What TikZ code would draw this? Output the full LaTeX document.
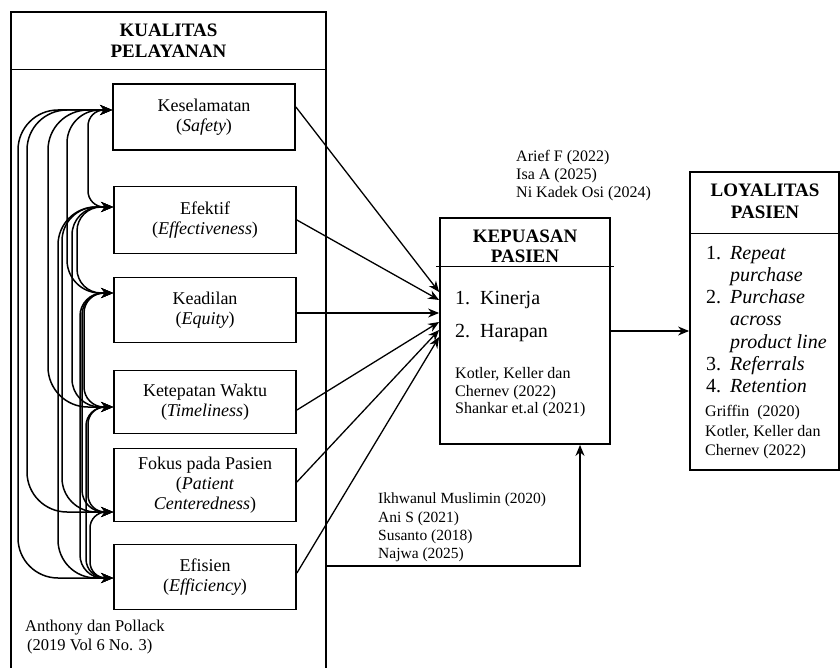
\documentclass[tikz,border=0pt]{standalone}
\usepackage{fontspec}
\setmainfont{Liberation Serif}
\usetikzlibrary{arrows.meta}
\newcommand\fsz[2]{\fontsize{#1}{#2}\selectfont}
\tikzset{
  dimbox/.style={draw, line width=1.8pt, minimum width=182pt, inner sep=0pt, align=center, font=\fsz{18}{20}},
  bigbox/.style={draw, line width=1.8pt, inner sep=0pt},
  title/.style={inner sep=0pt, align=center, font=\bfseries\fsz{19}{21}},
  txt/.style={inner sep=0pt, align=left, anchor=west},
  arr/.style={-{Stealth[length=11pt,width=9pt]}, line width=1.3pt},
  arcarr/.style={{Stealth[length=12pt,width=10pt]}-{Stealth[length=12pt,width=10pt]}, line width=1.5pt},
}
\begin{document}
\begin{tikzpicture}[x=1pt,y=-1pt]

\newcommand\linkarc[6]{%
  \coordinate (lv) at (#5,0);
  \draw[arcarr, rounded corners=#6pt] ([yshift=#2pt]#1.west) -- ([yshift=#2pt]#1.west -| lv)
    -- ([yshift=#4pt]#3.west -| lv) -- ([yshift=#4pt]#3.west);}

\useasboundingbox (0,0) rectangle (840,668);

%% kualitas pelayanan
\node[bigbox, minimum width=315pt, minimum height=666pt] (kq) at (168.5,345) {};
\draw[line width=1pt] ([shift={(0,58)}]kq.north west) -- ([shift={(0,58)}]kq.north east);
\node[title] (kqt) at (168.5,41) {KUALITAS\\PELAYANAN};

\node[dimbox, minimum height=66pt] (k1) at (204,117) {Keselamatan\\(\textit{Safety})};
\node[dimbox, minimum height=67pt] (k2) at (205,220) {Efektif\\(\textit{Effectiveness})};
\node[dimbox, minimum height=65pt] (k3) at (205,310) {Keadilan\\(\textit{Equity})};
\node[dimbox, minimum height=63pt] (k4) at (205,402) {Ketepatan Waktu\\(\textit{Timeliness})};
\node[dimbox, minimum height=73pt] (k5) at (205,485) {Fokus pada Pasien\\(\textit{Patient}\\\textit{Centeredness})};
\node[dimbox, minimum height=65pt] (k6) at (205,577) {Efisien\\(\textit{Efficiency})};

\node[txt, font=\fsz{16.5}{19}] (src1) at (25,637) {Anthony dan Pollack\\\hspace*{2pt}(2019 Vol 6 No. 3)};

%% arcs between the dimensions
\linkarc{k1}{7}{k6}{-1}{18}{40}
\linkarc{k1}{7}{k5}{-27}{27}{40}
\linkarc{k1}{7}{k4}{-5}{48}{40}
\linkarc{k1}{7}{k3}{17}{67}{33}
\linkarc{k1}{7}{k2}{13}{88}{16}
\linkarc{k2}{13}{k6}{-1}{58}{38}
\linkarc{k2}{13}{k5}{-27}{62}{34}
\linkarc{k2}{13}{k4}{-5}{72}{28}
\linkarc{k2}{13}{k3}{17}{77}{24}
\linkarc{k3}{17}{k6}{-1}{80}{23}
\linkarc{k3}{17}{k5}{-27}{82}{22}
\linkarc{k3}{17}{k4}{-5}{84}{20}
\linkarc{k4}{-5}{k6}{-1}{86}{19}
\linkarc{k4}{-5}{k5}{-27}{88}{17}
\linkarc{k5}{-27}{k6}{-1}{90}{16}

%% kepuasan pasien
\node[bigbox, minimum width=170pt, minimum height=226pt] (kp) at (525,331) {};
\draw[line width=1pt] ([shift={(-3,49)}]kp.north west) -- ([shift={(3,49)}]kp.north east);
\node[title, font=\bfseries\fsz{19}{20}] (kpt) at (525,246) {KEPUASAN\\PASIEN};
\node[txt, font=\fsz{20}{33}] (kpi) at (455,316.5) {\makebox[25pt][l]{1.}Kinerja\\\makebox[25pt][l]{2.}Harapan};
\node[txt, font=\fsz{16}{17.5}] (kpr) at (455,392.5) {Kotler, Keller dan\\Chernev (2022)\\Shankar et.al (2021)};

\node[txt, font=\fsz{16}{18}] (src2) at (516,176) {Arief F (2022)\\Isa A (2025)\\Ni Kadek Osi (2024)};
\node[txt, font=\fsz{15.5}{18.3}] (src3) at (378,527.5) {Ikhwanul Muslimin (2020)\\Ani S (2021)\\Susanto (2018)\\Najwa (2025)};

%% loyalitas pasien
\node[bigbox, minimum width=149pt, minimum height=298pt] (ly) at (764.5,321) {};
\draw[line width=1pt] ([shift={(0,62)}]ly.north west) -- ([shift={(0,62)}]ly.north east);
\node[title, font=\bfseries\fsz{19}{22}] (lyt) at (765,201) {LOYALITAS\\PASIEN};
\node[txt, font=\fsz{20}{22.2}] (lyi) at (706,319.5) {\makebox[24pt][l]{1.}\textit{Repeat}\\\hspace*{24pt}\textit{purchase}\\
  \makebox[24pt][l]{2.}\textit{Purchase}\\\hspace*{24pt}\textit{across}\\\hspace*{24pt}\textit{product line}\\
  \makebox[24pt][l]{3.}\textit{Referrals}\\\makebox[24pt][l]{4.}\textit{Retention}};
\node[txt, font=\fsz{16}{19.5}] (lyr) at (705,432.5) {Griffin~~(2020)\\Kotler, Keller dan\\Chernev (2022)};

%% connectors
\draw[arr] ([yshift=10pt]k1.east) -- ([yshift=39pt]kp.west);
\draw[arr] (k2.east) -- ([yshift=31pt]kp.west);
\draw[arr] ([yshift=-3pt]k3.east) -- ([yshift=18pt]kp.west);
\draw[arr] ([yshift=-8pt]k4.east) -- ([yshift=9pt]kp.west);
\draw[arr] ([yshift=3pt]k5.east) -- ([yshift=1pt]kp.west);
\draw[arr] ([yshift=4pt]k6.east) -- ([yshift=-6pt]kp.west);

\draw[arr] (kp.east) -- (kp.east -| ly.west);

\coordinate (bend) at (580,566);
\draw[arr] (kq.east |- bend) -- (bend) -- (bend |- kp.south);

\end{tikzpicture}
\end{document}
